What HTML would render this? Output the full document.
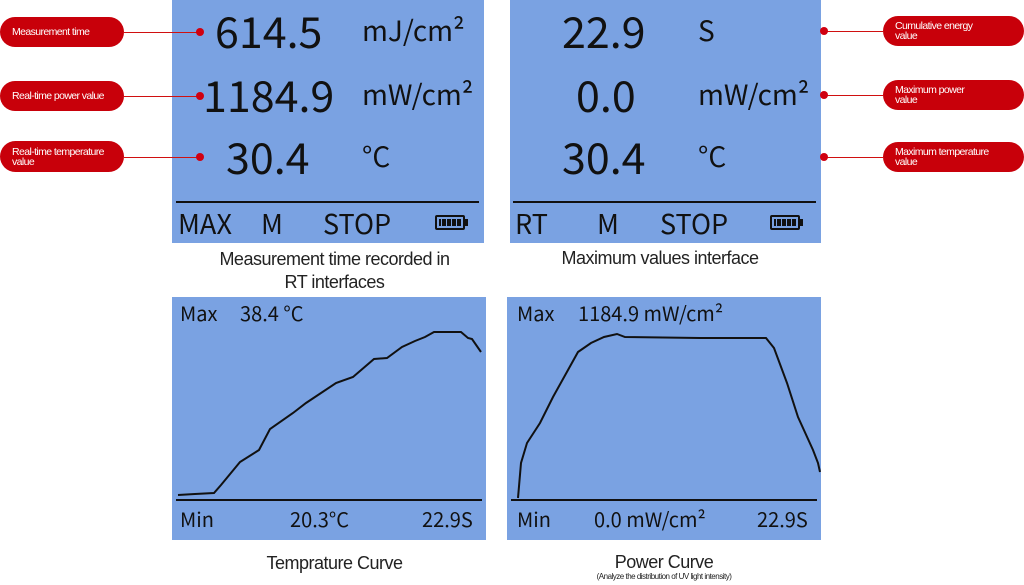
<!DOCTYPE html>
<html><head><meta charset="utf-8"><style>
body{margin:0;width:1024px;height:585px;background:#fff;position:relative;overflow:hidden;font-family:"Noto Sans CJK JP","Liberation Sans",sans-serif}
.p{position:absolute;background:#7aa2e2}
.t{position:absolute;white-space:nowrap;color:#111;line-height:1}
.pill{position:absolute;background:#c8000a;border-radius:16px;color:#fff;font-family:"Liberation Sans",sans-serif;font-size:10.5px;letter-spacing:-0.6px;line-height:10px;display:flex;align-items:center;padding-left:12px;box-sizing:border-box}
.ln{position:absolute;height:1px;background:#d01010}
.dot{position:absolute;width:8px;height:8px;border-radius:50%;background:#d00010}
.cap{position:absolute;font-family:"Liberation Sans",sans-serif;color:#222;text-align:center;letter-spacing:-0.5px}
</style></head><body>
<div class="p" style="left:172px;top:0;width:312px;height:243px"></div>
<div class="p" style="left:510px;top:0;width:311px;height:243px"></div>
<div class="p" style="left:172px;top:297px;width:314px;height:243px"></div>
<div class="p" style="left:507px;top:297px;width:314px;height:243px"></div>

<div class="t" style="left:215px;top:9px;font-size:43px">614.5</div>
<div class="t" style="left:362px;top:16px;font-size:28px">mJ/cm²</div>
<div class="t" style="left:203px;top:73px;font-size:43px">1184.9</div>
<div class="t" style="left:362px;top:80px;font-size:28px">mW/cm²</div>
<div class="t" style="left:226px;top:135px;font-size:43px">30.4</div>
<div class="t" style="left:362px;top:142px;font-size:28px">°C</div>
<div style="position:absolute;left:176px;top:201px;width:303px;height:2px;background:#111"></div>
<div class="t" style="left:178px;top:209px;font-size:27px">MAX</div>
<div class="t" style="left:261px;top:209px;font-size:27px">M</div>
<div class="t" style="left:323px;top:209px;font-size:27px">STOP</div>
<div style="position:absolute;left:435px;top:215px;width:30px;height:15px;border:2px solid #111;border-radius:2px;box-sizing:border-box;background:repeating-linear-gradient(90deg,#111 0 4px,transparent 4px 5px);background-clip:content-box;padding:2px"></div>
<div style="position:absolute;left:465px;top:219px;width:3px;height:7px;background:#111"></div>

<div class="t" style="left:562px;top:9px;font-size:43px">22.9</div>
<div class="t" style="left:698px;top:16px;font-size:28px">S</div>
<div class="t" style="left:576px;top:73px;font-size:43px">0.0</div>
<div class="t" style="left:698px;top:80px;font-size:28px">mW/cm²</div>
<div class="t" style="left:562px;top:135px;font-size:43px">30.4</div>
<div class="t" style="left:698px;top:142px;font-size:28px">°C</div>
<div style="position:absolute;left:513px;top:201px;width:303px;height:2px;background:#111"></div>
<div class="t" style="left:515px;top:209px;font-size:27px">RT</div>
<div class="t" style="left:597px;top:209px;font-size:27px">M</div>
<div class="t" style="left:660px;top:209px;font-size:27px">STOP</div>
<div style="position:absolute;left:770px;top:215px;width:30px;height:15px;border:2px solid #111;border-radius:2px;box-sizing:border-box;background:repeating-linear-gradient(90deg,#111 0 4px,transparent 4px 5px);background-clip:content-box;padding:2px"></div>
<div style="position:absolute;left:800px;top:219px;width:3px;height:7px;background:#111"></div>

<div class="cap" style="left:172px;top:248px;width:325px;font-size:18px;line-height:23px">Measurement time recorded in<br>RT interfaces</div>
<div class="cap" style="left:510px;top:248px;width:300px;font-size:18px">Maximum values interface</div>

<div class="pill" style="left:0;top:17px;width:124px;height:30px">Measurement time</div>
<div class="ln" style="left:124px;top:32px;width:76px"></div><div class="dot" style="left:196px;top:28px"></div>
<div class="pill" style="left:0;top:81px;width:124px;height:30px">Real-time power value</div>
<div class="ln" style="left:124px;top:96px;width:76px"></div><div class="dot" style="left:196px;top:92px"></div>
<div class="pill" style="left:0;top:141px;width:124px;height:31px">Real-time temperature<br>value</div>
<div class="ln" style="left:124px;top:157px;width:76px"></div><div class="dot" style="left:196px;top:153px"></div>

<div class="pill" style="left:883px;top:16px;width:141px;height:30px">Cumulative energy<br>value</div>
<div class="ln" style="left:826px;top:31px;width:57px"></div><div class="dot" style="left:820px;top:27px"></div>
<div class="pill" style="left:883px;top:80px;width:141px;height:30px">Maximum power<br>value</div>
<div class="ln" style="left:826px;top:95px;width:57px"></div><div class="dot" style="left:820px;top:91px"></div>
<div class="pill" style="left:883px;top:142px;width:141px;height:30px">Maximum temperature<br>value</div>
<div class="ln" style="left:826px;top:157px;width:57px"></div><div class="dot" style="left:820px;top:153px"></div>

<div class="t" style="left:180px;top:303px;font-size:20px">Max</div>
<div class="t" style="left:240px;top:303px;font-size:20px">38.4 °C</div>
<div class="t" style="left:180px;top:509px;font-size:20px">Min</div>
<div class="t" style="left:290px;top:509px;font-size:20px">20.3°C</div>
<div class="t" style="left:422px;top:509px;font-size:20px">22.9S</div>
<div class="t" style="left:517px;top:303px;font-size:20px">Max</div>
<div class="t" style="left:578px;top:303px;font-size:20px">1184.9 mW/cm²</div>
<div class="t" style="left:517px;top:509px;font-size:20px">Min</div>
<div class="t" style="left:594px;top:509px;font-size:20px">0.0 mW/cm²</div>
<div class="t" style="left:757px;top:509px;font-size:20px">22.9S</div>

<svg style="position:absolute;left:0;top:0" width="1024" height="585">
<line x1="176" y1="500" x2="482" y2="500" stroke="#111" stroke-width="2"/>
<line x1="511" y1="500" x2="817" y2="500" stroke="#111" stroke-width="2"/>
<polyline fill="none" stroke="#111" stroke-width="2" points="178,495 195,494 214,493 221,485 240,462 259,450 270,429 293,413 306,403 336,383 353,377 374,359 387,358 402,347 415,341 425,337 434,332 461,332 468,338 472,339 481,352"/>
<polyline fill="none" stroke="#111" stroke-width="2" points="518,498 521,463 527,443 540,423 553,397 568,370 578,352 591,343 604,337 617,334 625,337 700,338 766,338 774,348 787,383 798,417 813,450 818,463 820,472"/>
</svg>

<div class="cap" style="left:172px;top:553px;width:325px;font-size:18px">Temprature Curve</div>
<div class="cap" style="left:507px;top:552px;width:314px;font-size:18px;line-height:20px">Power Curve</div>
<div class="cap" style="left:507px;top:572px;width:314px;font-size:8px">(Analyze the distribution of UV light intensity)</div>
</body></html>
